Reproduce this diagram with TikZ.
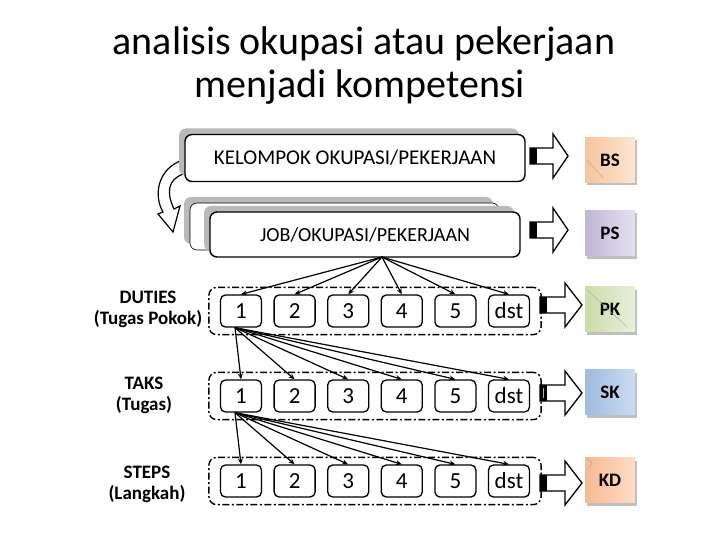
\documentclass[tikz,border=0pt]{standalone}
\usepackage{fontspec}
\setmainfont{Carlito}
\usetikzlibrary{positioning,shadows,arrows.meta,fit}

\definecolor{bsA}{HTML}{F7C49A}\definecolor{bsB}{HTML}{FCE6D4}
\definecolor{psA}{HTML}{BFB6D6}\definecolor{psB}{HTML}{E4E0EF}
\definecolor{pkA}{HTML}{CCDCA8}\definecolor{pkB}{HTML}{E8F0DA}
\definecolor{skA}{HTML}{9FBBE0}\definecolor{skB}{HTML}{CCDCF0}
\definecolor{kdA}{HTML}{F7BA90}\definecolor{kdB}{HTML}{FCDDC8}

% block arrow: tail x, centre y, head start x, tip x
\newcommand{\blockarrow}[4]{%
  \draw[line width=1.3pt, fill=white] (#1,#2-8) -- (#3,#2-8) -- (#3,#2-22) -- (#4,#2)
    -- (#3,#2+22) -- (#3,#2+8) -- (#1,#2+8) -- cycle;
  \fill (#1,#2-8) rectangle (#1+7,#2+8);
}

\tikzset{
  okbox/.style={draw, line width=1.4pt, rounded corners=7pt, fill=white, inner sep=0pt,
    general shadow={fill=gray!55, shadow xshift=-6pt, shadow yshift=6pt}},
  layerbox/.style={draw, line width=0.6pt, rounded corners=7pt, fill=white, inner sep=0pt,
    general shadow={fill=gray!55, shadow xshift=-6pt, shadow yshift=6pt}},
  numbox/.style={draw, line width=1.3pt, rounded corners=5pt, minimum width=41pt,
    minimum height=32pt, inner sep=0pt, font=\fontsize{23}{24}\selectfont},
  rowframe/.style={draw, line width=1.4pt, rounded corners=8pt,
    dash pattern=on 7pt off 2.5pt on 2pt off 2.5pt, inner xsep=11pt, inner ysep=7pt},
  kompbox/.style={minimum width=50pt, minimum height=45pt, inner sep=0pt,
    font=\bfseries\fontsize{19}{20}\selectfont,
    general shadow={fill=gray!50, shadow xshift=2pt, shadow yshift=-3pt}},
  rowlabel/.style={align=center, font=\bfseries\fontsize{19}{21}\selectfont},
  title/.style={font=\fontsize{40}{43}\selectfont, inner sep=0pt},
  tugas/.style={->, line width=1.2pt},
}

\begin{document}
\begin{tikzpicture}[x=1pt, y=-1pt, >={Stealth[length=6pt,width=5pt]}]
  \useasboundingbox (0,0) rectangle (720,540);

  % judul
  \node[title, anchor=base] (judul1) at (364,55) {analisis okupasi atau pekerjaan};
  \node[title, anchor=base] (judul2) at (360,98) {menjadi kompetensi};

  % panah lengkung kiri
  \draw[line width=1.2pt, fill=white] (183,160) .. controls (158,168) and (153,195) .. (163,212)
    -- (158,214) -- (173,232) -- (180,206) -- (174,209)
    .. controls (166,192) and (168,180) .. (183,174) -- cycle;

  % kotak okupasi
  \node[okbox, minimum width=340pt, minimum height=47pt, font=\fontsize{21}{24}\selectfont]
    (kelompok) at (355,158) {KELOMPOK OKUPASI/PEKERJAAN};
  \node[layerbox, minimum width=309pt, minimum height=47pt] (joblayer) at (344.5,226.5) {};
  \node[okbox, minimum width=310pt, minimum height=45pt, font=\fontsize{20}{24}\selectfont]
    (job) at (365,234.5) {JOB/OKUPASI/PEKERJAAN};

  % baris tugas
  \foreach \row/\ry in {d/311, t/396, s/481} {
    \foreach \lbl [count=\k from 0] in {1,2,3,4,5,dst}
      \node[numbox] (\row\k) at (241+53.6*\k,\ry) {\lbl};
    \node[rowframe, fit=(\row0)(\row5)] (\row-frame) {};
  }

  \node[rowlabel] (dutieslbl) at (148,309) {DUTIES\\(Tugas Pokok)};
  \node[rowlabel] (takslbl) at (144,395) {TAKS\\(Tugas)};
  \node[rowlabel] (stepslbl) at (147,484) {STEPS\\(Langkah)};

  % panah pecahan
  \coordinate (jobfoot) at (382,257);
  \coordinate (dfoot) at ([xshift=-6pt]d0.south);
  \coordinate (tfoot) at ([xshift=-6pt]t0.south);
  \foreach \k in {0,...,5} {
    \draw[tugas] (jobfoot) -- (d\k.north);
    \draw[tugas] (dfoot) -- (t\k.north);
    \draw[tugas] (tfoot) -- (s\k.north);
  }

  % panah blok
  \blockarrow{530}{156}{553}{568}
  \blockarrow{530}{230}{553}{568}
  \blockarrow{540}{305}{565}{582}
  \blockarrow{540}{393}{565}{582}
  \blockarrow{540}{483}{565}{582}
  \draw[gray!60, line width=1pt] (543.5,388) -- (543.5,398);

  % kompetensi
  \node[kompbox, left color=bsA, right color=bsB] (bs) at (610,160) {BS};
  \node[kompbox, left color=psA, right color=psB] (ps) at (610,233) {PS};
  \node[kompbox, left color=pkA, right color=pkB] (pk) at (610,309) {PK};
  \node[kompbox, left color=skA, right color=skB] (sk) at (610,392) {SK};
  \node[kompbox, left color=kdA, right color=kdB] (kd) at (610,480) {KD};
  \draw[gray!70, line width=0.4pt] (587,160) -- (603,178);
  \draw[gray!70, line width=0.4pt] (587,290) -- (627,327);
  \draw[gray!70, line width=0.4pt] (587,458) -- (592,463) -- (587,470);
\end{tikzpicture}
\end{document}
